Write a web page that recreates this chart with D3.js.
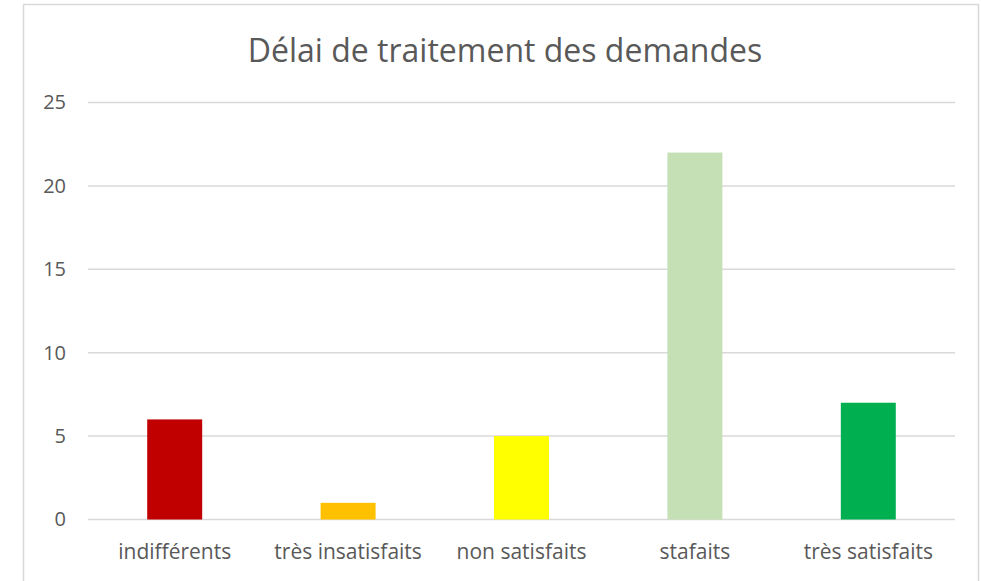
<!doctype html>
<html lang="fr">
<head>
  <meta charset="utf-8">
  <title>Délai de traitement des demandes</title>
  <script type="text/javascript" src="https://cdnjs.cloudflare.com/ajax/libs/d3/7.8.5/d3.min.js"></script>
  <style>
    body { margin: 0; background: #fff; }
    text { font-family: "Open Sans", sans-serif; fill: #595959; }
  </style>
</head>
<body>
  <svg width="981" height="581" id="svg"></svg>
</body>
<script type="text/javascript">

  var title = 'Délai de traitement des demandes';
  var categories = ['indifférents', 'très insatisfaits', 'non satisfaits', 'stafaits', 'très satisfaits'];
  var values = [6, 1, 5, 22, 7];
  var colors = ['#C00000', '#FFC000', '#FFFF00', '#C5E0B4', '#00B050'];
  var yTicks = [0, 5, 10, 15, 20, 25];

  var plotLeft = 88, plotRight = 955, plotTop = 102.5, plotBottom = 519.5;

  var svg = d3.select('#svg');

  // chart frame
  svg.append('rect')
    .attr('x', 23.5).attr('y', 4.5)
    .attr('width', 955).attr('height', 590)
    .attr('fill', 'none')
    .attr('stroke', '#d9d9d9')
    .attr('stroke-width', 1.5);

  var x = d3.scaleBand()
    .domain(categories)
    .range([plotLeft, plotRight])
    .paddingInner(0.683)
    .paddingOuter(0.3415);

  var y = d3.scaleLinear()
    .domain([0, 25])
    .range([plotBottom, plotTop]);

  // gridlines
  svg.append('g')
    .selectAll('line')
    .data(yTicks)
    .enter()
    .append('line')
    .attr('x1', plotLeft)
    .attr('x2', plotRight)
    .attr('y1', function(d) { return y(d); })
    .attr('y2', function(d) { return y(d); })
    .attr('stroke', '#d9d9d9')
    .attr('stroke-width', 1.5);

  // y axis labels
  var yAxis = svg.append('g')
    .attr('transform', 'translate(66,0)')
    .call(d3.axisLeft(y).tickValues(yTicks).tickSize(0).tickPadding(0));
  yAxis.select('.domain').remove();
  yAxis.selectAll('text')
    .attr('font-size', '20px')
    .style('font-family', '"Open Sans", sans-serif')
    .attr('fill', '#595959');

  // bars
  svg.append('g')
    .selectAll('rect')
    .data(values)
    .enter()
    .append('rect')
    .attr('x', function(d, i) { return x(categories[i]); })
    .attr('width', x.bandwidth())
    .attr('y', function(d) { return y(d); })
    .attr('height', function(d) { return y(0) - y(d); })
    .attr('fill', function(d, i) { return colors[i]; });

  // x axis labels
  var xAxis = svg.append('g')
    .attr('transform', 'translate(0,' + plotBottom + ')')
    .call(d3.axisBottom(x).tickSize(0).tickPadding(25));
  xAxis.select('.domain').remove();
  xAxis.selectAll('text')
    .attr('font-size', '21px')
    .style('font-family', '"Open Sans", sans-serif')
    .attr('fill', '#595959');

  // title
  svg.append('text')
    .attr('x', 505)
    .attr('y', 62)
    .attr('text-anchor', 'middle')
    .attr('font-size', '32px')
    .text(title);

</script>
</html>
